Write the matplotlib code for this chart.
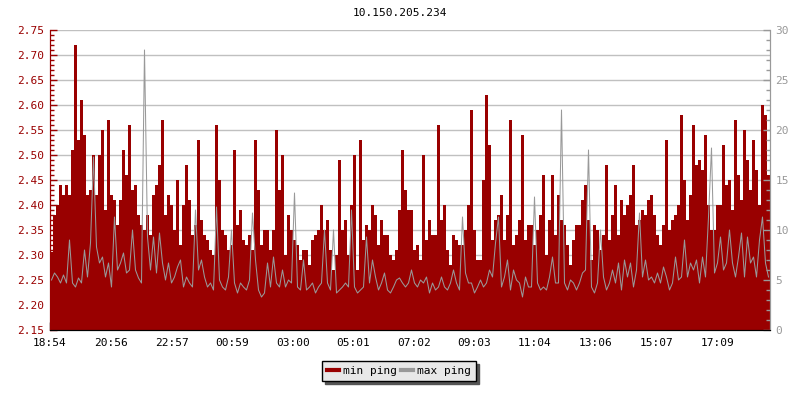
import numpy as np
import matplotlib
matplotlib.use("Agg")
import matplotlib.pyplot as plt
from matplotlib.ticker import MultipleLocator
from matplotlib.lines import Line2D

title = "10.150.205.234"
tick_labels = ["18:54", "20:56", "22:57", "00:59", "03:00", "05:01",
               "07:02", "09:03", "11:04", "13:06", "15:07", "17:09"]
sample_minutes = 6  # one sample every 6 minutes over 24 h

min_ping = [
    # 18:54 - 22:54
    2.307, 2.38, 2.40, 2.44, 2.42, 2.44, 2.42, 2.51, 2.72, 2.53,
    2.61, 2.54, 2.42, 2.43, 2.50, 2.42, 2.50, 2.55, 2.39, 2.57,
    2.42, 2.41, 2.36, 2.41, 2.51, 2.46, 2.56, 2.43, 2.44, 2.38,
    2.36, 2.35, 2.38, 2.34, 2.42, 2.44, 2.48, 2.57, 2.38, 2.42,
    # 22:54 - 02:54
    2.40, 2.35, 2.45, 2.32, 2.40, 2.48, 2.41, 2.34, 2.36, 2.53,
    2.37, 2.34, 2.33, 2.31, 2.30, 2.56, 2.45, 2.35, 2.34, 2.31,
    2.32, 2.51, 2.36, 2.39, 2.33, 2.32, 2.34, 2.31, 2.53, 2.43,
    2.32, 2.35, 2.35, 2.31, 2.35, 2.55, 2.43, 2.50, 2.30, 2.38,
    # 02:54 - 06:54
    2.35, 2.33, 2.32, 2.29, 2.31, 2.31, 2.28, 2.33, 2.34, 2.35,
    2.40, 2.35, 2.37, 2.31, 2.27, 2.30, 2.49, 2.35, 2.37, 2.30,
    2.40, 2.50, 2.27, 2.53, 2.33, 2.36, 2.35, 2.40, 2.38, 2.32,
    2.37, 2.34, 2.34, 2.30, 2.29, 2.31, 2.39, 2.51, 2.43, 2.39,
    # 06:54 - 10:54
    2.39, 2.31, 2.32, 2.29, 2.50, 2.33, 2.37, 2.34, 2.34, 2.56,
    2.37, 2.40, 2.31, 2.28, 2.34, 2.33, 2.32, 2.32, 2.35, 2.40,
    2.59, 2.35, 2.29, 2.29, 2.45, 2.62, 2.52, 2.33, 2.37, 2.38,
    2.42, 2.33, 2.38, 2.57, 2.32, 2.34, 2.37, 2.54, 2.33, 2.36,
    # 10:54 - 14:54
    2.36, 2.32, 2.35, 2.38, 2.46, 2.30, 2.37, 2.46, 2.34, 2.42,
    2.37, 2.36, 2.32, 2.28, 2.33, 2.36, 2.36, 2.41, 2.44, 2.37,
    2.29, 2.36, 2.35, 2.31, 2.34, 2.48, 2.33, 2.38, 2.44, 2.34,
    2.41, 2.38, 2.40, 2.42, 2.48, 2.36, 2.37, 2.39, 2.38, 2.41,
    # 14:54 - 18:54
    2.42, 2.38, 2.34, 2.32, 2.36, 2.53, 2.35, 2.37, 2.38, 2.40,
    2.58, 2.45, 2.37, 2.42, 2.56, 2.48, 2.49, 2.47, 2.54, 2.40,
    2.35, 2.35, 2.40, 2.40, 2.52, 2.44, 2.45, 2.39, 2.57, 2.46,
    2.41, 2.55, 2.49, 2.43, 2.53, 2.47, 2.40, 2.60, 2.58, 2.46,
]

max_ping = [
    5.0, 5.7, 5.3, 4.7, 5.5, 4.7, 9.0, 4.7, 4.3, 5.2,
    4.7, 8.0, 5.3, 8.7, 17.3, 8.3, 6.7, 7.3, 5.3, 6.7,
    4.3, 11.3, 6.0, 6.7, 7.7, 5.7, 6.0, 10.0, 6.0, 5.2,
    4.7, 28.0, 9.3, 6.0, 9.3, 5.7, 9.7, 6.7, 5.0, 6.7,

    4.7, 5.3, 6.3, 7.0, 4.3, 5.3, 4.7, 4.3, 12.0, 6.0,
    7.0, 5.3, 4.3, 4.7, 4.0, 12.3, 5.0, 4.3, 4.0, 5.3,
    10.0, 4.7, 3.7, 4.7, 4.3, 4.0, 5.0, 11.7, 7.0, 4.0,
    3.3, 3.7, 6.7, 4.3, 7.3, 4.7, 4.3, 6.0, 4.3, 5.0,

    4.7, 13.7, 4.3, 4.0, 7.0, 4.0, 4.3, 4.7, 3.7, 4.3,
    4.7, 10.0, 4.7, 4.0, 10.0, 3.7, 4.0, 4.3, 4.7, 4.3,
    12.0, 4.3, 3.7, 4.0, 4.3, 9.3, 4.7, 7.0, 5.3, 4.0,
    4.7, 5.7, 4.0, 3.7, 4.3, 5.0, 5.2, 4.7, 4.3, 4.7,

    6.0, 4.7, 4.3, 5.0, 4.7, 5.3, 3.7, 4.7, 4.0, 4.3,
    5.3, 4.3, 4.0, 4.7, 6.0, 4.7, 4.0, 11.3, 5.7, 4.7,
    4.7, 3.7, 4.3, 5.0, 4.3, 4.7, 6.0, 5.3, 8.7, 11.3,
    4.3, 5.3, 7.0, 4.0, 6.0, 5.0, 4.7, 3.3, 5.3, 4.3,

    4.3, 13.3, 4.7, 4.0, 4.3, 4.0, 5.3, 7.3, 4.7, 4.7,
    22.0, 4.7, 4.0, 5.0, 4.7, 4.0, 4.7, 5.7, 6.0, 18.0,
    4.3, 3.7, 4.7, 10.0, 5.3, 4.0, 4.7, 6.0, 4.7, 6.7,
    4.0, 7.0, 5.3, 6.7, 4.3, 6.0, 11.7, 5.3, 7.0, 5.0,

    5.3, 4.7, 5.7, 4.7, 6.3, 5.3, 4.0, 4.7, 7.3, 5.0,
    5.3, 9.0, 5.3, 6.7, 6.0, 7.0, 4.7, 7.3, 5.3, 11.3,
    18.2, 5.7, 6.7, 9.3, 6.0, 6.7, 10.0, 6.7, 5.3, 7.3,
    9.7, 5.3, 9.3, 6.7, 7.3, 5.3, 9.0, 11.3, 6.7, 5.3,
]

RED = "#990000"
GRAY = "#999999"
plt.rcParams["font.family"] = ["DejaVu Sans Mono"]
plt.rcParams["font.size"] = 8

fig = plt.figure(figsize=(8, 4), dpi=100)
ax = fig.add_axes([50 / 800, 70 / 400, 720 / 800, 300 / 400])
ax2 = ax.twinx()

n = len(min_ping)
x_edges = np.arange(n + 1) * sample_minutes
x_mid = (np.arange(n) + 0.5) * sample_minutes
ymin = np.array(min_ping + [min_ping[-1]])

ax.fill_between(x_edges, 2.15, ymin, step="post", color=RED, linewidth=0, zorder=2)
ax2.plot(x_mid, max_ping, color=GRAY, linewidth=0.75, zorder=3)

ax.set_xlim(0, n * sample_minutes)
ax.set_ylim(2.15, 2.75)
ax2.set_ylim(0, 30)

def to_min(s):
    h, m = map(int, s.split(":"))
    return h * 60 + m
t0 = to_min(tick_labels[0])
pos = [(to_min(s) - t0) % 1440 for s in tick_labels]
ax.set_xticks(pos)
ax.set_xticklabels(tick_labels)

ax.yaxis.set_major_locator(MultipleLocator(0.05))
ax.yaxis.set_minor_locator(MultipleLocator(0.01))
ax.yaxis.set_major_formatter(matplotlib.ticker.FormatStrFormatter("%.2f"))
ax2.yaxis.set_major_locator(MultipleLocator(5))
ax2.yaxis.set_minor_locator(MultipleLocator(1))

ax.grid(axis="y", color="#c0c0c0", linewidth=1.0, zorder=0)
ax.set_axisbelow(True)

ax.tick_params(axis="y", which="major", direction="in", length=5, width=1,
               color=RED, labelcolor=RED, pad=4)
ax.tick_params(axis="y", which="minor", direction="in", length=3, width=1, color=RED)
ax.tick_params(axis="x", which="major", direction="in", length=6, width=1,
               color="black", labelcolor="black", pad=6)
ax2.tick_params(axis="y", which="major", direction="in", length=5, width=1,
                color=GRAY, labelcolor=GRAY, pad=4)
ax2.tick_params(axis="y", which="minor", direction="in", length=3, width=1, color=GRAY)

for a in (ax, ax2):
    a.spines["top"].set_visible(False)
    a.spines["left"].set_color(RED)
    a.spines["right"].set_color(GRAY)
    a.spines["bottom"].set_color("black")

fig.text(0.5, 1 - 13 / 400, title, ha="center", va="center", fontsize=8, color="black")

handles = [Line2D([], [], color=RED, linewidth=3),
           Line2D([], [], color=GRAY, linewidth=3)]
leg = fig.legend(handles, ["min ping", "max ping"], loc="center",
                 bbox_to_anchor=(399 / 800, 1 - 371 / 400), ncol=2,
                 frameon=True, fancybox=False, shadow={"color": "#555555", "alpha": 1},
                 edgecolor="black", facecolor="#e8e8e8", framealpha=1,
                 handlelength=1.1, handletextpad=0.3, columnspacing=0.4,
                 borderpad=0.45, fontsize=8)
leg.get_frame().set_linewidth(1.0)

fig.savefig("out.png", dpi=100)
